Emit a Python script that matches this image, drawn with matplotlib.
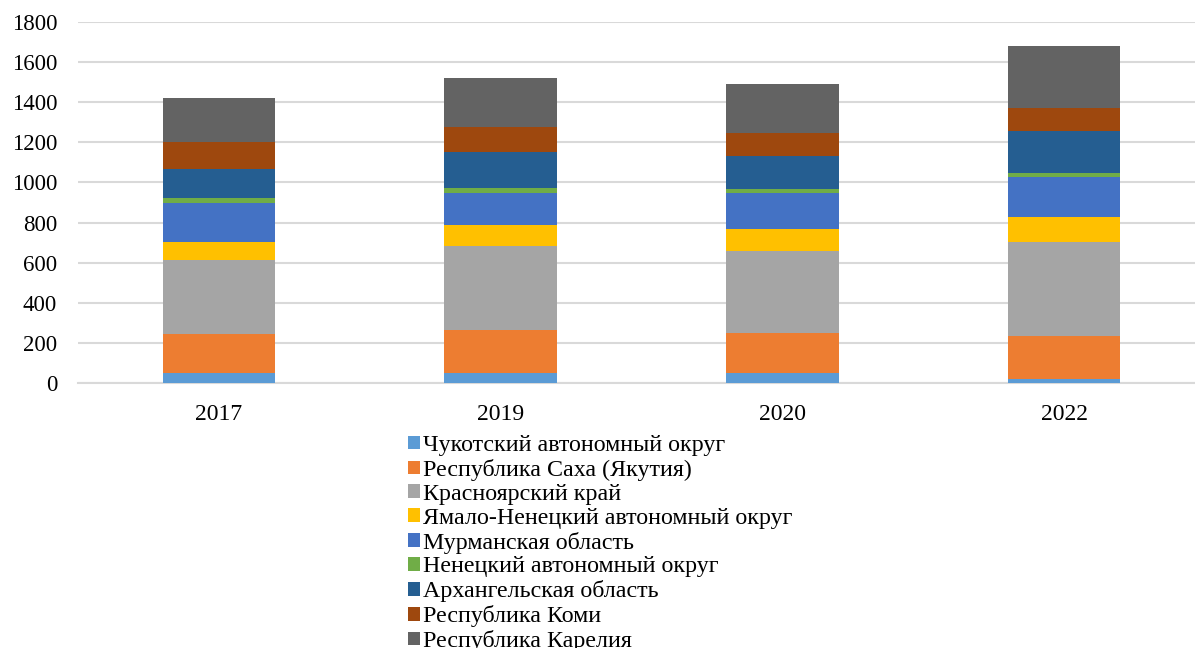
import numpy as np
import matplotlib
matplotlib.use("Agg")
import matplotlib.pyplot as plt

plt.rcParams['font.family'] = ['Liberation Serif', 'DejaVu Serif']

# data
years = ['2017', '2019', '2020', '2022']
regions = [
    'Чукотский автономный округ',
    'Республика Саха (Якутия)',
    'Красноярский край',
    'Ямало-Ненецкий автономный округ',
    'Мурманская область',
    'Ненецкий автономный округ',
    'Архангельская область',
    'Республика Коми',
    'Республика Карелия',
]
chukotka = [48, 48, 48, 18]
sakha = [195, 216, 203, 216]
krasnoyarsk = [369, 420, 409, 469]
yamal = [92, 104, 106, 126]
murmansk = [195, 161, 183, 196]
nenets = [22, 22, 18, 23]
arkhangelsk = [144, 179, 165, 210]
komi = [138, 125, 116, 114]
karelia = [216, 244, 242, 308]

series = [chukotka, sakha, krasnoyarsk, yamal, murmansk, nenets,
          arkhangelsk, komi, karelia]
colors = ['#5B9BD5', '#ED7D31', '#A5A5A5', '#FFC000', '#4472C4',
          '#70AD47', '#255E91', '#9E480E', '#636363']

fig = plt.figure(figsize=(11.95, 6.48), dpi=100)
ax = fig.add_axes([78 / 1195, 1 - 383 / 648, 1 - 78 / 1195, (383 - 22) / 648])

x = np.arange(len(years))
bottom = np.zeros(len(years))
for name, vals, col in zip(regions, series, colors):
    ax.bar(x, vals, width=0.40, bottom=bottom, color=col, label=name, zorder=3)
    bottom += np.array(vals)

ax.set_xlim(-0.5, 3.465)
ax.set_ylim(0, 1800)
ax.set_yticks(range(0, 1801, 200))
ax.set_xticks(x)
ax.set_xticklabels(years)
ax.yaxis.grid(True, color='#d9d9d9', linewidth=1.5, zorder=0)
ax.set_axisbelow(True)
for s in ['top', 'right', 'left']:
    ax.spines[s].set_visible(False)
ax.spines['bottom'].set_color('#d9d9d9')
ax.spines['bottom'].set_linewidth(1.5)
ax.tick_params(axis='y', length=0, pad=15, labelsize=16.5)
ax.tick_params(axis='x', length=0, pad=15, labelsize=17)

ax.legend(loc='upper center', bbox_to_anchor=(600 / 1195, 1 - 423 / 648),
          bbox_transform=fig.transFigure, ncol=1, frameon=False,
          fontsize=17.3, handlelength=0.5, handleheight=0.5,
          handletextpad=0.15, labelspacing=0.12, borderpad=0)

fig.savefig('out.png', dpi=100)
